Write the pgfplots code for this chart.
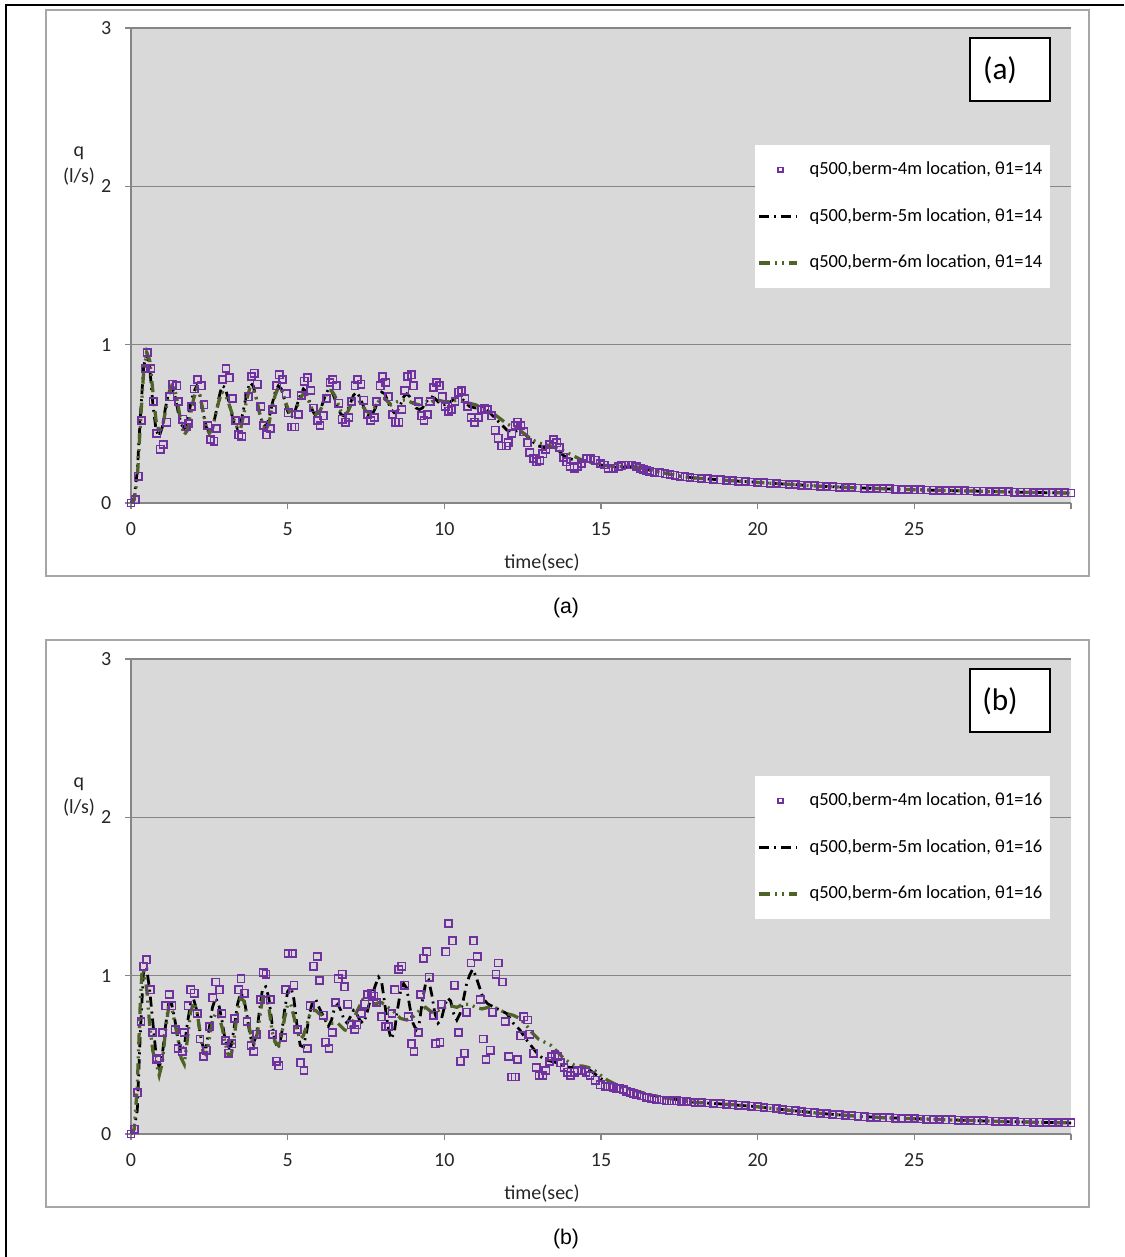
\documentclass[border=0pt]{standalone}
\usepackage{pgfplots}
\pgfplotsset{compat=1.18}
\usepackage{fontspec}
\setmainfont{Carlito}
\newfontfamily\capfont{Liberation Sans}
\definecolor{plotbg}{HTML}{D9D9D9}
\definecolor{gridc}{HTML}{868686}
\definecolor{framec}{HTML}{A6A6A6}
\definecolor{sq}{HTML}{7030A0}
\definecolor{olivesix}{HTML}{4F6228}
\def\u{0.4pt}
\pgfplotsset{
  panel/.style={
    scale only axis, width=376pt, height=190pt,
    xmin=0, xmax=30, ymin=0, ymax=3,
    xtick={0,5,...,30}, ytick={0,1,2,3},
    xticklabels={0,5,10,15,20,25,{}},
    axis x line*=bottom, axis y line*=left,
    axis line style={gridc, line width=0.5pt},
    ymajorgrids, grid style={gridc, line width=0.5pt},
    axis background/.style={fill=plotbg},
    tick align=outside, major tick length=2.4pt,
    tick style={gridc, line width=0.5pt},
    ticklabel style={font=\fontsize{8}{9}\selectfont, text=black!85},
    yticklabel style={xshift=-2pt},
    xticklabel style={yshift=-2pt},
    /pgf/number format/assume math mode=true,
    clip=false,
    legend style={at={(rel axis cs:0.978,0.754)}, anchor=north east,
      fill=white, draw=none, font=\fontsize{7.4}{9}\selectfont,
      row sep=8pt, inner xsep=1pt, inner ysep=4.5pt,
      /tikz/every odd column/.append style={column sep=2.5pt}},
    legend cell align=left,
  },
  sqstyle/.style={only marks, mark=square, mark size=1.45pt,
    mark options={draw=sq, line width=0.65pt, fill=none, solid}},
  fivestyle/.style={black, line width=1.1pt,
    dash pattern=on 4pt off 2pt on 0.8pt off 2pt,
    legend image code/.code={\draw[##1] (0pt,0pt) -- (15pt,0pt);}},
  sixstyle/.style={olivesix, line width=1.3pt,
    dash pattern=on 4.5pt off 2pt on 0.8pt off 2pt on 0.8pt off 2pt,
    legend image code/.code={\draw[##1] (0pt,0pt) -- (15pt,0pt);}},
}
\begin{document}
\begin{tikzpicture}
\useasboundingbox (0,0) rectangle (1124*\u,-1257*\u);
\draw[black, line width=0.8pt] (6*\u,-1257*\u) -- (6*\u,-5*\u) -- (1124*\u,-5*\u);
\draw[framec, line width=0.5pt] (46*\u,-10*\u) rectangle (1089*\u,-576*\u);
\draw[framec, line width=0.5pt] (46*\u,-640*\u) rectangle (1089*\u,-1207*\u);

% ---------------- panel (a) ----------------
\begin{axis}[panel, at={(131*\u,-503*\u)}, anchor=south west]
\addlegendimage{sqstyle, mark size=0.9pt}
\addlegendentry{q500,berm-4m location, θ1=14}
\addplot[fivestyle] coordinates {
(0,0)(0.1,0.03)(0.2,0.2)(0.3,0.55)(0.4,0.85)(0.5,0.96)(0.6,0.85)(0.7,0.62)(0.8,0.46)(0.9,0.42)
(1.0,0.48)(1.1,0.6)(1.2,0.7)(1.3,0.73)(1.4,0.68)(1.5,0.58)(1.6,0.5)(1.7,0.47)(1.8,0.52)(1.9,0.62)
(2.0,0.7)(2.1,0.74)(2.2,0.68)(2.3,0.57)(2.4,0.48)(2.5,0.45)(2.6,0.47)(2.7,0.56)(2.8,0.66)(2.9,0.74)
(3.0,0.73)(3.1,0.66)(3.2,0.57)(3.3,0.5)(3.4,0.47)(3.5,0.5)(3.6,0.6)(3.7,0.7)(3.8,0.76)(3.9,0.74)
(4.0,0.66)(4.1,0.57)(4.2,0.5)(4.3,0.48)(4.4,0.53)(4.5,0.62)(4.6,0.7)(4.7,0.74)(4.8,0.72)(4.9,0.65)
(5.0,0.58)(5.1,0.54)(5.2,0.56)(5.3,0.62)(5.4,0.68)(5.5,0.72)(5.6,0.7)(5.7,0.64)(5.8,0.58)(5.9,0.55)
(6.0,0.57)(6.1,0.62)(6.2,0.68)(6.3,0.72)(6.4,0.71)(6.5,0.66)(6.6,0.6)(6.7,0.56)(6.8,0.55)(6.9,0.58)
(7.0,0.63)(7.1,0.68)(7.2,0.7)(7.3,0.67)(7.4,0.62)(7.5,0.57)(7.6,0.55)(7.7,0.56)(7.8,0.6)(7.9,0.66)
(8.0,0.7)(8.1,0.69)(8.2,0.64)(8.3,0.59)(8.4,0.57)(8.5,0.58)(8.6,0.62)(8.7,0.67)(8.8,0.69)(8.9,0.67)
(9.0,0.63)(9.1,0.6)(9.2,0.59)(9.3,0.6)(9.4,0.63)(9.5,0.66)(9.6,0.67)(9.7,0.66)(9.8,0.64)(9.9,0.62)
(10.0,0.62)(10.2,0.64)(10.4,0.67)(10.6,0.65)(10.8,0.61)(11.0,0.6)(11.2,0.61)(11.4,0.58)(11.6,0.54)(11.8,0.5)
(12.0,0.46)(12.2,0.45)(12.4,0.46)(12.6,0.43)(12.8,0.39)(13.0,0.36)(13.2,0.35)(13.4,0.36)(13.6,0.34)(13.8,0.3)
(14.0,0.28)(14.2,0.27)(14.4,0.27)(14.6,0.26)(14.8,0.25)(15.0,0.24)(15.5,0.225)(16.0,0.23)(16.5,0.21)(17.0,0.19)
(17.5,0.17)(18,0.158)(19,0.143)(20,0.13)(21,0.118)(22,0.106)(23,0.097)(24,0.09)(25,0.084)(26,0.079)
(27,0.075)(28,0.07)(29,0.066)(30,0.063)};
\addlegendentry{q500,berm-5m location, θ1=14}
\addplot[sixstyle] coordinates {
(0,0)(0.1,0.02)(0.2,0.15)(0.3,0.5)(0.4,0.82)(0.5,0.95)(0.6,0.9)(0.7,0.7)(0.8,0.52)(0.9,0.45)
(1.0,0.48)(1.1,0.58)(1.2,0.68)(1.3,0.74)(1.4,0.72)(1.5,0.62)(1.6,0.5)(1.7,0.43)(1.8,0.46)(1.9,0.56)
(2.0,0.66)(2.1,0.72)(2.2,0.68)(2.3,0.58)(2.4,0.48)(2.5,0.44)(2.6,0.47)(2.7,0.56)(2.8,0.64)(2.9,0.7)
(3.0,0.69)(3.1,0.64)(3.2,0.58)(3.3,0.52)(3.4,0.47)(3.5,0.47)(3.6,0.56)(3.7,0.66)(3.8,0.73)(3.9,0.72)
(4.0,0.66)(4.1,0.57)(4.2,0.5)(4.3,0.46)(4.4,0.5)(4.5,0.6)(4.6,0.68)(4.7,0.73)(4.8,0.72)(4.9,0.66)
(5.0,0.6)(5.1,0.56)(5.2,0.57)(5.3,0.61)(5.4,0.66)(5.5,0.69)(5.6,0.68)(5.7,0.63)(5.8,0.58)(5.9,0.56)
(6.0,0.57)(6.1,0.61)(6.2,0.67)(6.3,0.71)(6.4,0.71)(6.5,0.68)(6.6,0.63)(6.7,0.58)(6.8,0.56)(6.9,0.57)
(7.0,0.61)(7.1,0.65)(7.2,0.66)(7.3,0.64)(7.4,0.61)(7.5,0.58)(7.6,0.57)(7.7,0.58)(7.8,0.61)(7.9,0.64)
(8.0,0.66)(8.1,0.66)(8.2,0.64)(8.3,0.62)(8.4,0.63)(8.5,0.64)(8.6,0.645)(8.7,0.65)(8.8,0.65)(8.9,0.64)
(9.0,0.63)(9.2,0.62)(9.4,0.62)(9.6,0.64)(9.8,0.65)(10.0,0.64)(10.2,0.64)(10.4,0.65)(10.6,0.64)(10.8,0.63)
(11.0,0.62)(11.2,0.6)(11.4,0.59)(11.6,0.56)(11.8,0.53)(12.0,0.5)(12.2,0.48)(12.4,0.46)(12.6,0.43)(12.8,0.4)
(13.0,0.38)(13.2,0.37)(13.4,0.36)(13.6,0.345)(13.8,0.33)(14.0,0.31)(14.2,0.29)(14.4,0.27)(14.6,0.26)(14.8,0.25)
(15.0,0.24)(15.5,0.23)(16.0,0.235)(16.5,0.21)(17.0,0.19)(17.5,0.17)(18,0.158)(19,0.143)(20,0.13)(21,0.118)
(22,0.106)(23,0.097)(24,0.09)(25,0.084)(26,0.079)(27,0.075)(28,0.07)(29,0.066)(30,0.063)};
\addlegendentry{q500,berm-6m location, θ1=14}
\addplot[sqstyle, forget plot] coordinates {
(0,0)(0.13,0.02)(0.23,0.17)(0.34,0.52)(0.45,0.85)(0.52,0.95)(0.63,0.85)(0.71,0.64)(0.82,0.44)(0.93,0.34)
(1.03,0.37)(1.14,0.51)(1.24,0.67)(1.33,0.75)(1.46,0.74)(1.52,0.64)(1.65,0.53)(1.76,0.48)(1.83,0.5)(1.93,0.61)
(2.02,0.72)(2.12,0.78)(2.24,0.74)(2.33,0.62)(2.45,0.49)(2.54,0.4)(2.65,0.39)(2.73,0.47)(2.93,0.78)(3.03,0.85)
(3.14,0.79)(3.24,0.66)(3.33,0.52)(3.44,0.43)(3.54,0.42)(3.65,0.52)(3.74,0.67)(3.85,0.8)(3.93,0.82)(4.03,0.75)
(4.14,0.61)(4.24,0.49)(4.33,0.43)(4.44,0.47)(4.52,0.59)(4.65,0.74)(4.73,0.81)(4.84,0.78)(4.95,0.69)(5.02,0.57)
(5.13,0.48)(5.23,0.48)(5.34,0.56)(5.43,0.68)(5.53,0.77)(5.63,0.79)(5.74,0.71)(5.82,0.6)(5.95,0.52)(6.03,0.49)
(6.14,0.55)(6.24,0.66)(6.35,0.76)(6.44,0.78)(6.56,0.74)(6.63,0.63)(6.74,0.53)(6.84,0.51)(6.95,0.54)(7.04,0.64)
(7.15,0.74)(7.23,0.78)(7.34,0.75)(7.43,0.65)(7.55,0.56)(7.65,0.52)(7.76,0.54)(7.84,0.64)(7.95,0.74)(8.03,0.8)
(8.13,0.76)(8.22,0.67)(8.35,0.56)(8.44,0.51)(8.55,0.51)(8.64,0.59)(8.74,0.71)(8.82,0.8)(8.95,0.81)(9.01,0.74)
(9.17,0.64)(9.27,0.55)(9.35,0.52)(9.45,0.56)(9.55,0.64)(9.65,0.73)(9.75,0.76)(9.84,0.74)(9.93,0.67)(10.03,0.61)
(10.13,0.58)(10.23,0.59)(10.34,0.64)(10.45,0.7)(10.55,0.71)(10.66,0.66)(10.74,0.61)(10.85,0.54)(10.96,0.51)(11.09,0.54)
(11.19,0.59)(11.29,0.6)(11.38,0.59)(11.5,0.55)(11.62,0.46)(11.72,0.41)(11.83,0.36)(11.97,0.36)(12.04,0.38)(12.15,0.44)
(12.26,0.49)(12.34,0.51)(12.44,0.49)(12.54,0.45)(12.65,0.38)(12.73,0.32)(12.84,0.28)(12.95,0.26)(13.05,0.27)(13.14,0.31)
(13.24,0.34)(13.35,0.37)(13.48,0.4)(13.59,0.38)(13.67,0.35)(13.8,0.29)(13.9,0.26)(14.01,0.23)(14.14,0.22)(14.24,0.23)
(14.38,0.25)(14.54,0.28)(14.67,0.28)(14.81,0.27)(14.97,0.25)(15.1,0.24)(15.23,0.22)(15.39,0.22)(15.55,0.23)(15.66,0.235)
(15.77,0.24)(15.88,0.24)(15.98,0.24)(16.14,0.23)(16.25,0.22)(16.35,0.21)(16.46,0.205)(16.56,0.2)(16.72,0.195)(16.88,0.19)
(17.04,0.185)(17.2,0.18)(17.36,0.175)(17.52,0.17)(17.68,0.165)(17.84,0.16)
(18.0,0.158)(18.2,0.155)(18.4,0.152)(18.6,0.149)(18.8,0.146)(19.0,0.143)(19.2,0.140)(19.4,0.138)(19.6,0.135)(19.8,0.133)
(20.0,0.130)(20.2,0.128)(20.4,0.125)(20.6,0.123)(20.8,0.120)(21.0,0.118)(21.2,0.116)(21.4,0.113)(21.6,0.111)(21.8,0.109)
(22.0,0.106)(22.2,0.104)(22.4,0.102)(22.6,0.100)(22.8,0.099)(23.0,0.097)(23.2,0.095)(23.4,0.094)(23.6,0.092)(23.8,0.091)
(24.0,0.090)(24.2,0.089)(24.4,0.087)(24.6,0.086)(24.8,0.085)(25.0,0.084)(25.2,0.083)(25.4,0.082)(25.6,0.081)(25.8,0.080)
(26.0,0.079)(26.2,0.078)(26.4,0.077)(26.6,0.077)(26.8,0.076)(27.0,0.075)(27.2,0.074)(27.4,0.073)(27.6,0.072)(27.8,0.071)
(28.0,0.070)(28.2,0.069)(28.4,0.068)(28.6,0.068)(28.8,0.067)(29.0,0.066)(29.2,0.065)(29.4,0.065)(29.6,0.064)(29.8,0.064)
(30.0,0.063)};
\end{axis}

% ---------------- panel (b) ----------------
\begin{axis}[panel, at={(131*\u,-1134*\u)}, anchor=south west]
\addlegendimage{sqstyle, mark size=0.9pt}
\addlegendentry{q500,berm-4m location, θ1=16}
\addplot[fivestyle] coordinates {
(0,0)(0.1,0.03)(0.2,0.15)(0.3,0.65)(0.4,1.03)(0.5,1.05)(0.6,0.9)(0.7,0.7)(0.8,0.5)(0.9,0.42)
(1.0,0.5)(1.1,0.68)(1.2,0.82)(1.3,0.82)(1.4,0.72)(1.5,0.6)(1.6,0.52)(1.7,0.55)(1.8,0.7)(1.9,0.82)
(2.0,0.85)(2.1,0.78)(2.2,0.64)(2.3,0.55)(2.4,0.55)(2.5,0.67)(2.6,0.8)(2.7,0.86)(2.8,0.82)(2.9,0.72)
(3.0,0.6)(3.1,0.54)(3.2,0.56)(3.3,0.68)(3.4,0.82)(3.5,0.89)(3.6,0.86)(3.7,0.75)(3.8,0.62)(3.9,0.57)
(4.0,0.62)(4.1,0.78)(4.2,0.92)(4.3,0.93)(4.4,0.86)(4.5,0.7)(4.6,0.58)(4.7,0.54)(4.8,0.62)(4.9,0.78)
(5.0,0.9)(5.1,0.93)(5.2,0.85)(5.3,0.68)(5.4,0.56)(5.5,0.55)(5.6,0.64)(5.7,0.76)(5.8,0.84)(5.9,0.85)
(6.0,0.8)(6.1,0.76)(6.2,0.72)(6.3,0.68)(6.4,0.72)(6.5,0.8)(6.6,0.82)(6.7,0.78)(6.8,0.72)(6.9,0.7)
(7.0,0.74)(7.1,0.78)(7.2,0.76)(7.3,0.72)(7.4,0.7)(7.5,0.74)(7.6,0.82)(7.7,0.88)(7.8,0.94)(7.9,0.99)
(8.0,0.96)(8.1,0.82)(8.2,0.68)(8.3,0.6)(8.4,0.64)(8.5,0.78)(8.6,0.9)(8.7,0.95)(8.8,0.92)(8.9,0.8)
(9.0,0.7)(9.1,0.66)(9.2,0.7)(9.3,0.84)(9.4,0.95)(9.5,0.97)(9.6,0.88)(9.7,0.76)(9.8,0.7)(9.9,0.72)
(10.0,0.8)(10.1,0.86)(10.2,0.84)(10.3,0.76)(10.4,0.72)(10.5,0.76)(10.6,0.84)(10.7,0.94)(10.8,1.0)(10.9,1.04)
(11.0,1.0)(11.1,0.94)(11.2,0.88)(11.3,0.84)(11.4,0.82)(11.6,0.8)(11.8,0.78)(12.0,0.76)(12.2,0.7)(12.4,0.66)
(12.6,0.6)(12.8,0.55)(13.0,0.5)(13.2,0.47)(13.4,0.46)(13.6,0.45)(13.8,0.43)(14.0,0.42)(14.2,0.42)(14.4,0.42)
(14.6,0.41)(14.8,0.38)(15.0,0.35)(15.2,0.33)(15.4,0.32)(15.6,0.3)(15.8,0.29)(16.0,0.28)(16.5,0.25)(17.0,0.23)
(17.5,0.215)(18,0.2)(19,0.188)(20,0.172)(21,0.15)(22,0.13)(23,0.115)(24,0.103)(25,0.097)(26,0.09)
(27,0.084)(28,0.078)(29,0.074)(30,0.07)};
\addlegendentry{q500,berm-5m location, θ1=16}
\addplot[sixstyle] coordinates {
(0,0)(0.1,0.03)(0.2,0.3)(0.3,0.85)(0.35,1.02)(0.4,1.04)(0.5,0.92)(0.6,0.68)(0.7,0.52)(0.8,0.45)(0.9,0.37)
(1.0,0.45)(1.1,0.65)(1.2,0.8)(1.3,0.8)(1.4,0.7)(1.5,0.6)(1.6,0.48)(1.7,0.44)(1.8,0.6)(1.9,0.77)
(2.0,0.83)(2.1,0.78)(2.2,0.65)(2.3,0.52)(2.4,0.5)(2.5,0.6)(2.6,0.72)(2.7,0.76)(2.8,0.74)(2.9,0.68)
(3.0,0.58)(3.1,0.5)(3.2,0.5)(3.3,0.62)(3.4,0.78)(3.5,0.86)(3.6,0.84)(3.7,0.75)(3.8,0.65)(3.9,0.56)
(4.0,0.6)(4.1,0.72)(4.2,0.86)(4.3,0.88)(4.4,0.8)(4.5,0.65)(4.6,0.58)(4.7,0.56)(4.8,0.62)(4.9,0.73)
(5.0,0.82)(5.1,0.82)(5.2,0.74)(5.3,0.65)(5.4,0.6)(5.5,0.62)(5.6,0.68)(5.7,0.75)(5.8,0.78)(5.9,0.78)
(6.0,0.76)(6.1,0.75)(6.2,0.73)(6.3,0.71)(6.4,0.7)(6.5,0.7)(6.6,0.7)(6.7,0.68)(6.8,0.66)(6.9,0.65)
(7.0,0.67)(7.1,0.72)(7.2,0.77)(7.3,0.81)(7.4,0.85)(7.5,0.86)(7.6,0.85)(7.7,0.83)(7.8,0.82)(7.9,0.83)
(8.0,0.83)(8.2,0.8)(8.4,0.77)(8.6,0.73)(8.8,0.72)(9.0,0.74)(9.2,0.78)(9.4,0.8)(9.6,0.77)(9.8,0.78)
(10.0,0.8)(10.2,0.81)(10.4,0.8)(10.6,0.82)(10.8,0.82)(11.0,0.8)(11.2,0.79)(11.4,0.8)(11.6,0.8)(11.8,0.78)
(12.0,0.76)(12.2,0.75)(12.4,0.73)(12.6,0.69)(12.8,0.64)(13.0,0.6)(13.2,0.58)(13.4,0.56)(13.6,0.52)(13.8,0.48)
(14.0,0.45)(14.2,0.43)(14.4,0.43)(14.6,0.42)(14.8,0.4)(15.0,0.37)(15.2,0.34)(15.4,0.32)(15.6,0.3)(15.8,0.29)
(16.0,0.28)(16.5,0.25)(17.0,0.23)(17.5,0.215)(18,0.2)(19,0.188)(20,0.172)(21,0.15)(22,0.13)(23,0.115)
(24,0.103)(25,0.097)(26,0.09)(27,0.084)(28,0.078)(29,0.074)(30,0.07)};
\addlegendentry{q500,berm-6m location, θ1=16}
\addplot[sqstyle, forget plot] coordinates {
(0,0)(0.11,0.03)(0.21,0.26)(0.32,0.71)(0.4,1.06)(0.5,1.1)(0.61,0.91)(0.69,0.64)(0.82,0.47)(0.9,0.48)
(1.01,0.64)(1.1,0.81)(1.22,0.88)(1.31,0.81)(1.41,0.66)(1.5,0.54)(1.63,0.52)(1.7,0.64)(1.82,0.81)(1.91,0.91)
(2.02,0.89)(2.11,0.76)(2.2,0.6)(2.31,0.49)(2.41,0.53)(2.5,0.68)(2.61,0.86)(2.71,0.96)(2.82,0.91)(2.9,0.76)
(3.01,0.59)(3.12,0.51)(3.22,0.57)(3.3,0.73)(3.44,0.91)(3.51,0.98)(3.62,0.89)(3.7,0.71)(3.83,0.56)(3.92,0.52)
(4.01,0.63)(4.13,0.85)(4.22,1.02)(4.31,1.01)(4.44,0.85)(4.51,0.63)(4.64,0.46)(4.72,0.43)(4.85,0.61)(4.93,0.91)
(5.01,1.14)(5.15,1.14)(5.2,0.94)(5.31,0.66)(5.41,0.45)(5.52,0.4)(5.62,0.54)(5.72,0.81)(5.83,1.06)(5.94,1.12)
(6.02,0.97)(6.13,0.75)(6.21,0.58)(6.32,0.54)(6.42,0.64)(6.53,0.83)(6.61,0.98)(6.74,1.01)(6.81,0.93)(6.92,0.82)
(7.03,0.69)(7.14,0.66)(7.21,0.69)(7.35,0.76)(7.46,0.82)(7.56,0.88)(7.67,0.89)(7.75,0.87)(7.83,0.83)(7.99,0.74)
(8.13,0.68)(8.22,0.68)(8.33,0.76)(8.42,0.91)(8.55,1.04)(8.64,1.06)(8.74,0.94)(8.85,0.74)(8.95,0.57)(9.03,0.52)
(9.17,0.64)(9.24,0.88)(9.33,1.11)(9.44,1.15)(9.52,0.99)(9.65,0.75)(9.73,0.57)(9.86,0.58)(9.91,0.82)(10.05,1.15)
(10.13,1.33)(10.26,1.22)(10.32,0.94)(10.45,0.64)(10.52,0.46)(10.64,0.51)(10.71,0.77)(10.85,1.08)(10.93,1.22)(11.05,1.12)
(11.14,0.85)(11.24,0.6)(11.33,0.47)(11.46,0.53)(11.54,0.77)(11.65,1.01)(11.72,1.08)(11.85,0.96)(11.94,0.71)(12.06,0.49)
(12.15,0.36)(12.26,0.36)(12.33,0.47)(12.44,0.62)(12.54,0.74)(12.66,0.72)(12.73,0.63)(12.84,0.51)(12.93,0.42)(13.03,0.37)
(13.14,0.37)(13.24,0.4)(13.35,0.46)(13.43,0.49)(13.53,0.5)(13.62,0.49)(13.71,0.45)(13.82,0.42)(13.93,0.39)(14.03,0.37)
(14.14,0.39)(14.24,0.4)(14.38,0.4)(14.52,0.39)(14.65,0.37)(14.81,0.34)(14.97,0.31)(15.13,0.3)(15.29,0.3)(15.4,0.295)
(15.5,0.29)(15.6,0.285)(15.71,0.28)(15.82,0.27)(15.93,0.26)(16.04,0.255)(16.14,0.25)(16.3,0.24)(16.46,0.23)(16.62,0.225)
(16.78,0.22)(16.94,0.215)(17.1,0.21)(17.26,0.21)(17.41,0.21)(17.57,0.207)(17.73,0.205)(17.88,0.202)
(18.0,0.200)(18.2,0.198)(18.4,0.196)(18.6,0.193)(18.8,0.191)(19.0,0.188)(19.2,0.185)(19.4,0.182)(19.6,0.179)(19.8,0.175)
(20.0,0.172)(20.2,0.168)(20.4,0.164)(20.6,0.160)(20.8,0.155)(21.0,0.150)(21.2,0.146)(21.4,0.142)(21.6,0.138)(21.8,0.134)
(22.0,0.130)(22.2,0.127)(22.4,0.124)(22.6,0.121)(22.8,0.118)(23.0,0.115)(23.2,0.112)(23.4,0.109)(23.6,0.107)(23.8,0.105)
(24.0,0.103)(24.2,0.102)(24.4,0.100)(24.6,0.099)(24.8,0.098)(25.0,0.097)(25.2,0.095)(25.4,0.094)(25.6,0.092)(25.8,0.091)
(26.0,0.090)(26.2,0.089)(26.4,0.088)(26.6,0.086)(26.8,0.085)(27.0,0.084)(27.2,0.083)(27.4,0.082)(27.6,0.081)(27.8,0.080)
(28.0,0.078)(28.2,0.077)(28.4,0.076)(28.6,0.076)(28.8,0.075)(29.0,0.074)(29.2,0.073)(29.4,0.072)(29.6,0.072)(29.8,0.071)
(30.0,0.070)};
\end{axis}

% labels and boxes
\foreach \yy/\lab in {0/a, 631/b}{
  \node[font=\fontsize{8}{9}\selectfont, text=black!85] at (542*\u,-563*\u-\yy*\u) {time(sec)};
  \node[font=\fontsize{8}{10.4}\selectfont, text=black!85, align=center] at (79*\u,-166*\u-\yy*\u) {q\\(l/s)};
  \draw[black, line width=0.9pt, fill=white] (970*\u,-38*\u-\yy*\u) rectangle (1050*\u,-101*\u-\yy*\u);
  \node[font=\fontsize{12.5}{14}\selectfont] at (1000*\u,-70*\u-\yy*\u) {(\lab)};
  \node[font=\capfont\fontsize{8.5}{10}\selectfont] at (566*\u,-608*\u-\yy*\u) {(\lab)};
}
\end{tikzpicture}
\end{document}
